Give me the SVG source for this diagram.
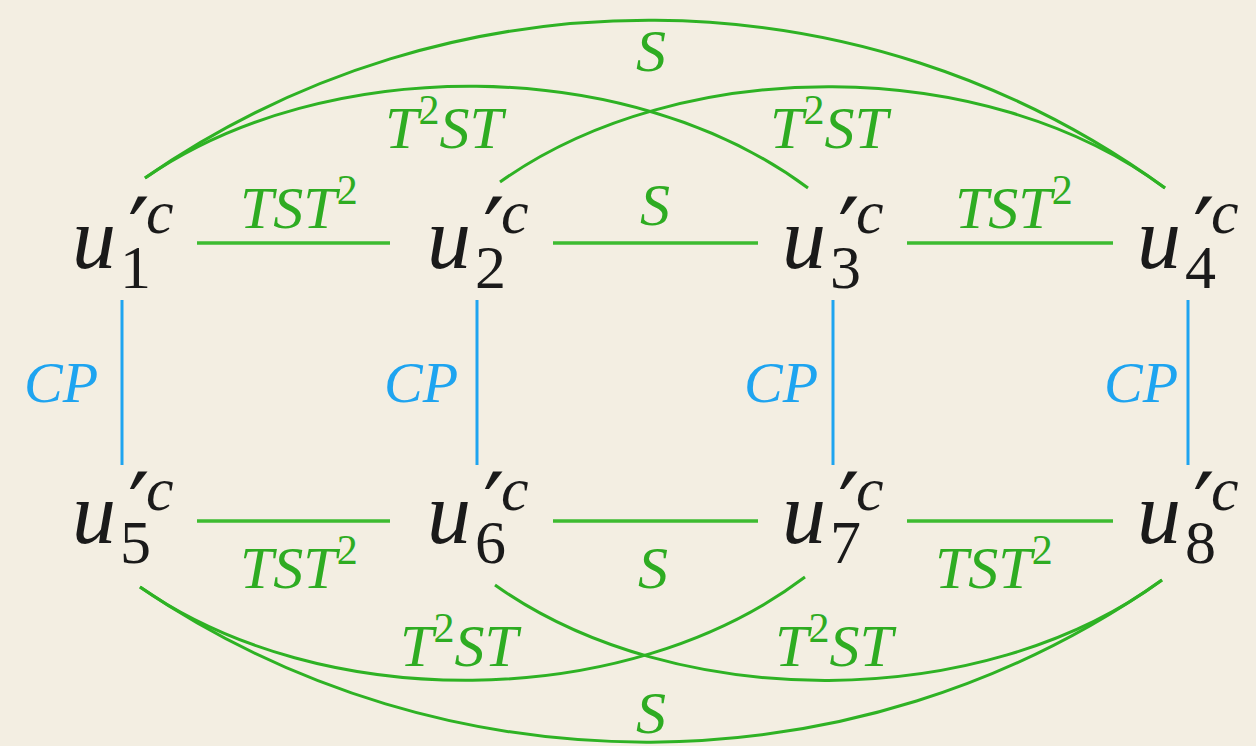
<svg xmlns="http://www.w3.org/2000/svg" width="1256" height="746" viewBox="0 0 1256 746">
<style>
.bg{fill:#f3eee2}
.nv{font-family:"Liberation Serif",serif;font-style:italic;font-size:88px;fill:#1a1a1a}
.sub{font-family:"Liberation Serif",serif;font-size:62px;fill:#1a1a1a}
.pr{font-family:"DejaVu Serif",serif;font-size:96px;fill:#1a1a1a}
.sc{font-family:"Liberation Serif",serif;font-style:italic;font-size:62px;fill:#1a1a1a}
.gl{font-family:"Liberation Serif",serif;font-style:italic;font-size:60px;fill:#2eac22}
.bl{font-family:"Liberation Serif",serif;font-style:italic;font-size:58px;fill:#1ea4f0}
.up{font-style:normal;font-size:42px}
.eg{stroke:#3dbb30;stroke-width:3.5;fill:none}
.ec{stroke:#2eb224;stroke-width:3;fill:none}
.eb{stroke:#1ea4f0;stroke-width:3;fill:none}
</style>
<rect class="bg" x="0" y="0" width="1256" height="746"/>
<g id="connectors">
<line class="eg" x1="197" y1="243" x2="390" y2="243"/>
<line class="eg" x1="553" y1="243" x2="758" y2="243"/>
<line class="eg" x1="907" y1="243" x2="1113" y2="243"/>
<line class="eg" x1="197" y1="521" x2="390" y2="521"/>
<line class="eg" x1="553" y1="521" x2="758" y2="521"/>
<line class="eg" x1="907" y1="521" x2="1113" y2="521"/>
<line class="eb" x1="122" y1="300" x2="122" y2="465"/>
<line class="eb" x1="477" y1="300" x2="477" y2="465"/>
<line class="eb" x1="833" y1="300" x2="833" y2="465"/>
<line class="eb" x1="1188" y1="300" x2="1188" y2="465"/>
<path class="ec" d="M145,178 C450,-34 860,-34 1165,188"/>
<path class="ec" d="M145,178 C325,54 628,54 808,188"/>
<path class="ec" d="M500,182 C680,54 985,54 1165,188"/>
<path class="ec" d="M140,587 C445,795 857,795 1162,580"/>
<path class="ec" d="M140,587 C320,713 625,713 805,577"/>
<path class="ec" d="M495,585 C675,713 982,713 1162,580"/>
<text class="gl" x="240" y="228">TST<tspan class="up" dy="-24">2</tspan></text>
<text class="gl" x="640" y="225">S</text>
<text class="gl" x="955" y="228">TST<tspan class="up" dy="-24">2</tspan></text>
<text class="gl" x="385" y="148">T<tspan class="up" dy="-24">2</tspan><tspan dy="24">ST</tspan></text>
<text class="gl" x="770" y="148">T<tspan class="up" dy="-24">2</tspan><tspan dy="24">ST</tspan></text>
<text class="gl" x="636" y="71">S</text>
<text class="gl" x="240" y="588">TST<tspan class="up" dy="-24">2</tspan></text>
<text class="gl" x="638" y="588">S</text>
<text class="gl" x="935" y="588">TST<tspan class="up" dy="-24">2</tspan></text>
<text class="gl" x="400" y="666">T<tspan class="up" dy="-24">2</tspan><tspan dy="24">ST</tspan></text>
<text class="gl" x="775" y="666">T<tspan class="up" dy="-24">2</tspan><tspan dy="24">ST</tspan></text>
<text class="gl" x="636" y="733">S</text>
<text class="bl" x="24" y="402">CP</text>
<text class="bl" x="384" y="402">CP</text>
<text class="bl" x="744" y="402">CP</text>
<text class="bl" x="1104" y="402">CP</text>
</g>
<g id="u1"><text class="nv" x="72" y="268">u</text><text class="sub" x="120" y="288">1</text><text class="pr" x="128" y="266">′</text><text class="sc" x="146" y="233">c</text></g>
<g id="u2"><text class="nv" x="427" y="268">u</text><text class="sub" x="475" y="288">2</text><text class="pr" x="483" y="266">′</text><text class="sc" x="501" y="233">c</text></g>
<g id="u3"><text class="nv" x="782" y="268">u</text><text class="sub" x="830" y="288">3</text><text class="pr" x="838" y="266">′</text><text class="sc" x="856" y="233">c</text></g>
<g id="u4"><text class="nv" x="1137" y="268">u</text><text class="sub" x="1185" y="288">4</text><text class="pr" x="1193" y="266">′</text><text class="sc" x="1211" y="233">c</text></g>
<g id="u5"><text class="nv" x="72" y="543">u</text><text class="sub" x="120" y="563">5</text><text class="pr" x="128" y="541">′</text><text class="sc" x="146" y="510">c</text></g>
<g id="u6"><text class="nv" x="427" y="543">u</text><text class="sub" x="475" y="563">6</text><text class="pr" x="483" y="541">′</text><text class="sc" x="501" y="510">c</text></g>
<g id="u7"><text class="nv" x="782" y="543">u</text><text class="sub" x="830" y="563">7</text><text class="pr" x="838" y="541">′</text><text class="sc" x="856" y="510">c</text></g>
<g id="u8"><text class="nv" x="1137" y="543">u</text><text class="sub" x="1185" y="563">8</text><text class="pr" x="1193" y="541">′</text><text class="sc" x="1211" y="510">c</text></g>
</svg>
